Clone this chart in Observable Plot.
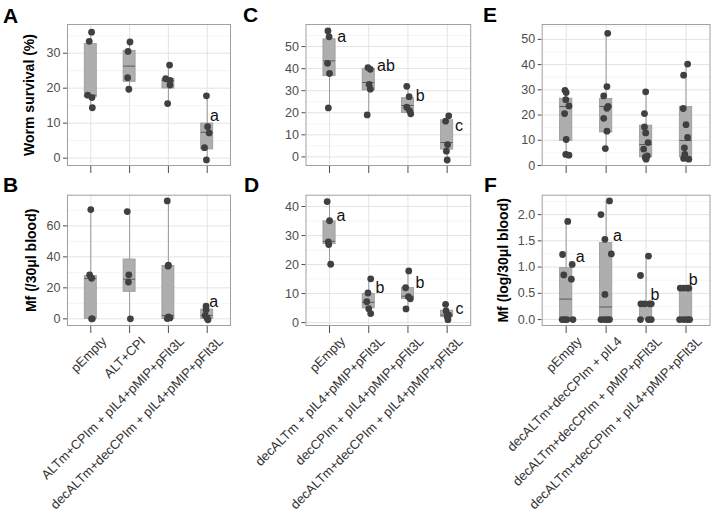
<!DOCTYPE html>
<html>
<head>
<meta charset="utf-8">
<script src="https://cdn.jsdelivr.net/npm/d3@7"></script>
<script src="https://cdn.jsdelivr.net/npm/@observablehq/plot@0.6"></script>
<style>
  html, body { margin: 0; padding: 0; background: #fff; }
  #wrap { position: relative; width: 714px; height: 520px; overflow: hidden; font-family: "Liberation Sans", Arial, sans-serif; }
  .plt { position: absolute; }
  .letter { position: absolute; font-weight: bold; font-size: 21px; line-height: 21px; color: #000; }
</style>
</head>
<body>
<div id="wrap"></div>
<script>
// ---------- categories (x tick labels) ----------
const catsAB = ["pEmpty", "ALT+CPI", "ALTm+CPIm + pIL4+pMIP+pFlt3L", "decALTm+decCPIm + pIL4+pMIP+pFlt3L"];
const catsCD = ["pEmpty", "decALTm + pIL4+pMIP+pFlt3L", "decCPIm + pIL4+pMIP+pFlt3L", "decALTm+decCPIm + pIL4+pMIP+pFlt3L"];
const catsEF = ["pEmpty", "decALTm+decCPIm + pIL4", "decALTm+decCPIm + pMIP+pFlt3L", "decALTm+decCPIm + pIL4+pMIP+pFlt3L"];

// ---------- y tick values ----------
const ticksA = [0, 10, 20, 30],            minorA = [5, 15, 25, 35];
const ticksB = [0, 20, 40, 60],            minorB = [10, 30, 50, 70];
const ticksC = [0, 10, 20, 30, 40, 50],    minorC = [5, 15, 25, 35, 45, 55];
const ticksD = [0, 10, 20, 30, 40],        minorD = [5, 15, 25, 35];
const ticksE = [0, 10, 20, 30, 40, 50],    minorE = [5, 15, 25, 35, 45, 55];
const ticksF = [0, 0.5, 1, 1.5, 2],        minorF = [0.25, 0.75, 1.25, 1.75, 2.25];

// ---------- observations per group (values) and their horizontal jitter (in group units) ----------
const ptsA = [[36.0, 33.4, 18.0, 17.3, 14.4], [33.2, 30.5, 23.0, 19.7], [26.6, 22.7, 22.2, 20.9, 15.6], [17.8, 9.0, 7.2, 3.0, -0.5]];
const jitA = [[0.02, -0.04, -0.08, 0.03, 0.04], [0.01, -0.04, -0.05, -0.02], [0.03, -0.07, 0.04, 0.04, -0.02], [-0.02, 0.01, 0.05, -0.07, -0.02]];
const ptsB = [[70.5, 28.4, 26.2, 0, 0], [69.2, 28.4, 23.7, 0], [76.1, 34.6, 34.0, 1.2, 0.6, 0.2], [8.2, 5.8, 2.2, 0.4, -0.6]];
const jitB = [[0.0, -0.03, 0.02, 0.04, 0.02], [-0.06, -0.02, -0.03, 0.02], [-0.03, 0.0, -0.01, 0.0, 0.04, -0.03], [-0.03, -0.03, -0.05, 0.0, 0.02]];
const ptsC = [[57.1, 54.4, 42.4, 37.8, 22.2], [40.5, 39.7, 32.8, 30.7, 19.0], [32.0, 27.3, 22.5, 21.0, 19.5], [18.6, 16.2, 5.6, 2.6, -1.4]];
const jitC = [[-0.04, -0.01, -0.05, 0.0, -0.03], [-0.02, 0.04, 0.01, 0.04, -0.04], [-0.03, 0.03, -0.03, 0.04, 0.07], [0.04, -0.04, 0.01, -0.02, 0.0]];
const ptsD = [[41.7, 35.1, 27.8, 26.9, 20.1], [15.1, 10.2, 7.2, 4.8, 3.1], [17.8, 12.0, 8.9, 8.2, 4.7], [6.3, 4.0, 2.6, 2.1, 1.0]];
const jitD = [[-0.06, 0.0, -0.03, -0.02, 0.03], [0.05, -0.02, -0.05, 0.0, 0.05], [0.02, -0.06, 0.01, 0.06, -0.05], [-0.04, -0.03, 0.04, 0.0, 0.02]];
const ptsE = [[29.8, 28.9, 26.1, 23.6, 20.6, 10.3, 4.4, 4.1], [52.4, 31.3, 27.6, 23.4, 22.7, 18.7, 13.6, 6.7], [29.2, 20.6, 15.3, 12.9, 9.1, 6.5, 3.8, 2.5, 3.3], [40.2, 35.8, 22.6, 16.2, 11.1, 7.0, 4.4, 2.8, 2.5]];
const jitE = [[-0.03, 0.0, -0.01, 0.07, -0.04, 0.0, -0.01, 0.07], [0.04, 0.02, -0.06, 0.05, 0.02, -0.06, 0.02, -0.02], [-0.01, -0.04, -0.04, -0.01, 0.05, -0.06, 0.03, 0.0, -0.02], [0.04, -0.06, -0.07, 0.0, 0.04, -0.04, -0.03, -0.06, 0.07]];
const ptsF = [[1.87, 1.24, 1.05, 0.85, 0.77, 0, 0, 0, 0], [2.26, 2.0, 1.53, 1.25, 0.48, 0, 0, 0, 0], [1.21, 0.84, 0.30, 0.30, 0.30, 0.30, 0, 0, 0], [0.60, 0.60, 0.60, 0.60, 0, 0, 0, 0]];
const jitF = [[0.04, -0.09, 0.15, -0.06, 0.13, -0.1, -0.04, 0.02, 0.17], [0.085, -0.13, -0.03, 0.13, -0.03, -0.13, -0.04, 0.03, 0.085], [0.06, -0.14, -0.13, -0.04, 0.085, 0.13, -0.14, 0.06, 0.13], [-0.145, -0.06, 0.03, 0.07, -0.16, -0.06, 0.03, 0.09]];

// ---------- box statistics per group: [lower whisker, Q1, median, Q3, upper whisker] ----------
const boxA = [[14.4, 17.4, 18.0, 32.6, 36.0], [19.7, 21.8, 26.3, 30.7, 33.2], [15.6, 19.9, 22.2, 22.6, 26.6], [-0.5, 2.5, 7.4, 9.9, 17.8]];
const boxB = [[0, 0, 26.0, 27.7, 70.5], [0, 17.4, 25.6, 38.3, 69.2], [0, 0, 2.2, 34.2, 76.1], [-0.6, 0, 2.2, 6.0, 8.2]];
const boxC = [[22.2, 36.6, 43.5, 53.3, 57.1], [19.0, 30.1, 33.7, 39.9, 40.5], [19.5, 19.9, 23.3, 26.6, 32.0], [-1.4, 3.3, 6.5, 16.6, 18.6]];
const boxD = [[20.1, 27.0, 28.0, 34.9, 41.7], [3.1, 4.9, 7.0, 9.9, 15.1], [4.7, 8.1, 9.1, 11.9, 17.8], [1.0, 1.9, 2.6, 4.1, 6.3]];
const boxE = [[4.1, 9.8, 23.4, 26.5, 29.8], [6.7, 13.1, 23.4, 26.4, 52.4], [2.5, 3.2, 8.3, 15.8, 29.2], [2.5, 3.2, 9.9, 23.2, 40.2]];
const boxF = [[0, 0, 0.39, 0.98, 1.87], [0, 0, 0.24, 1.46, 2.26], [0, 0, 0.30, 0.32, 1.21], [0, 0, 0, 0.60, 0.60]];

// ---------- significance letters: [group index (1-4), text, y value, offset in group units] ----------
const sigA = [[4, "a", 12.1, 0.07]];
const sigB = [[4, "a", 11.2, 0.05]];
const sigC = [[1, "a", 54.2, 0.2], [2, "ab", 41.4, 0.21], [3, "b", 27.8, 0.2], [4, "c", 14.2, 0.2]];
const sigD = [[1, "a", 36.9, 0.18], [2, "b", 12.0, 0.17], [3, "b", 13.7, 0.19], [4, "c", 4.8, 0.21]];
const sigE = [];
const sigF = [[1, "a", 1.19, 0.24], [2, "a", 1.59, 0.17], [3, "b", 0.48, 0.11], [4, "b", 0.76, 0.07]];

const wrap = document.getElementById("wrap");
const HW = 0.155; // box half width in group units

function panel(cfg) {
  const {left, top, width, height, mL, mT, mR, mB, domain, ticks, minor, fmt, cats, pts, jit, box, sig, title, titleDx, showLabels} = cfg;
  const dots = [];
  pts.forEach((arr, g) => arr.forEach((v, k) => dots.push({g: g + 1, v, j: jit[g][k]})));
  const boxes = box.map((b, g) => ({g: g + 1, lo: b[0], q1: b[1], med: b[2], q3: b[3], hi: b[4]}));
  const sigs = sig.map(s => ({g: s[0], t: s[1], y: s[2], o: s[3]}));
  const marks = [
    Plot.ruleY(minor, {stroke: "#f2f2f2", strokeWidth: 0.8}),
    Plot.ruleY(ticks, {stroke: "#e3e3e3", strokeWidth: 1}),
    Plot.ruleX([1, 2, 3, 4], {stroke: "#e3e3e3", strokeWidth: 1}),
    Plot.ruleX(boxes, {x: "g", y1: "lo", y2: "q1", stroke: "#9a9a9a", strokeWidth: 1}),
    Plot.ruleX(boxes, {x: "g", y1: "q3", y2: "hi", stroke: "#9a9a9a", strokeWidth: 1}),
    Plot.rect(boxes, {x1: d => d.g - HW, x2: d => d.g + HW, y1: "q1", y2: "q3", fill: "#aeaeae", stroke: "#999999", strokeWidth: 0.8}),
    Plot.ruleY(boxes, {y: "med", x1: d => d.g - HW, x2: d => d.g + HW, stroke: "#5a5a5a", strokeWidth: 1}),
    Plot.dot(dots, {x: d => d.g + d.j, y: "v", r: 3.4, fill: "#404040", stroke: "none"}),
    Plot.text(sigs, {x: d => d.g + d.o, y: "y", text: "t", textAnchor: "start", fontSize: 16, fill: "#111"}),
    Plot.frame({stroke: "#a0a0a0", strokeWidth: 1})
  ];
  if (title) marks.push(Plot.text([title], {text: d => d, frameAnchor: "left", textAnchor: "middle", rotate: -90, dx: titleDx, fontWeight: "bold", fontSize: 14, fill: "#000"}));
  if (showLabels) marks.push(Plot.text(cats, {x: (d, i) => i + 1, text: d => d, frameAnchor: "bottom", rotate: -45, textAnchor: "end", lineAnchor: "top", dx: 10, dy: 10, fontSize: 13, fill: "#333"}));
  const svg = Plot.plot({
    width, height,
    marginLeft: mL, marginTop: mT, marginRight: mR, marginBottom: mB,
    style: {background: "transparent", overflow: "visible", fontFamily: "Liberation Sans, Arial, sans-serif", fontSize: "12.5px", color: "#4d4d4d", maxWidth: "none"},
    x: {type: "linear", domain: [0.4, 4.6], ticks: [1, 2, 3, 4], tickFormat: () => "", tickSize: 8, label: null},
    y: {domain, ticks, tickFormat: fmt, tickSize: 4, tickPadding: 3, label: null},
    marks
  });
  svg.classList.add("plt");
  svg.style.left = left + "px";
  svg.style.top = top + "px";
  wrap.appendChild(svg);
}

const fmt0 = d => String(d);
const fmt1 = d => d.toFixed(1);

panel({left: 0, top: 0, width: 235, height: 175, mL: 67, mT: 24, mR: 5, mB: 10, domain: [-2.1, 38.2], ticks: ticksA, minor: minorA, fmt: fmt0, cats: catsAB, pts: ptsA, jit: jitA, box: boxA, sig: sigA, title: "Worm survival (%)", titleDx: -38, showLabels: false});
panel({left: 0, top: 175, width: 235, height: 345, mL: 67, mT: 19.7, mR: 5, mB: 195, domain: [-4.3, 79.8], ticks: ticksB, minor: minorB, fmt: fmt0, cats: catsAB, pts: ptsB, jit: jitB, box: boxB, sig: sigB, title: "Mf (/30μl blood)", titleDx: -36, showLabels: true});
panel({left: 235, top: 0, width: 240, height: 175, mL: 70.5, mT: 24, mR: 4.8, mB: 10, domain: [-3.9, 60], ticks: ticksC, minor: minorC, fmt: fmt0, cats: catsCD, pts: ptsC, jit: jitC, box: boxC, sig: sigC, title: "", titleDx: -38, showLabels: false});
panel({left: 235, top: 175, width: 240, height: 345, mL: 70.5, mT: 19.7, mR: 4.8, mB: 195, domain: [-1, 43.9], ticks: ticksD, minor: minorD, fmt: fmt0, cats: catsCD, pts: ptsD, jit: jitD, box: boxD, sig: sigD, title: "", titleDx: -38, showLabels: true});
panel({left: 475, top: 0, width: 239, height: 175, mL: 66.7, mT: 24, mR: 4.5, mB: 10, domain: [0, 55.9], ticks: ticksE, minor: minorE, fmt: fmt0, cats: catsEF, pts: ptsE, jit: jitE, box: boxE, sig: sigE, title: "", titleDx: -38, showLabels: false});
panel({left: 475, top: 175, width: 239, height: 345, mL: 66.7, mT: 19.7, mR: 4.5, mB: 195, domain: [-0.113, 2.37], ticks: ticksF, minor: minorF, fmt: fmt1, cats: catsEF, pts: ptsF, jit: jitF, box: boxF, sig: sigF, title: "Mf (log/30μl blood)", titleDx: -39, showLabels: true});

// panel letters
const letters = [["A", 3, 5], ["B", 3, 174], ["C", 243, 4], ["D", 244, 174], ["E", 483, 4], ["F", 484, 174]];
letters.forEach(([t, x, y]) => {
  const d = document.createElement("div");
  d.className = "letter";
  d.textContent = t;
  d.style.left = x + "px";
  d.style.top = y + "px";
  wrap.appendChild(d);
});
</script>
</body>
</html>
